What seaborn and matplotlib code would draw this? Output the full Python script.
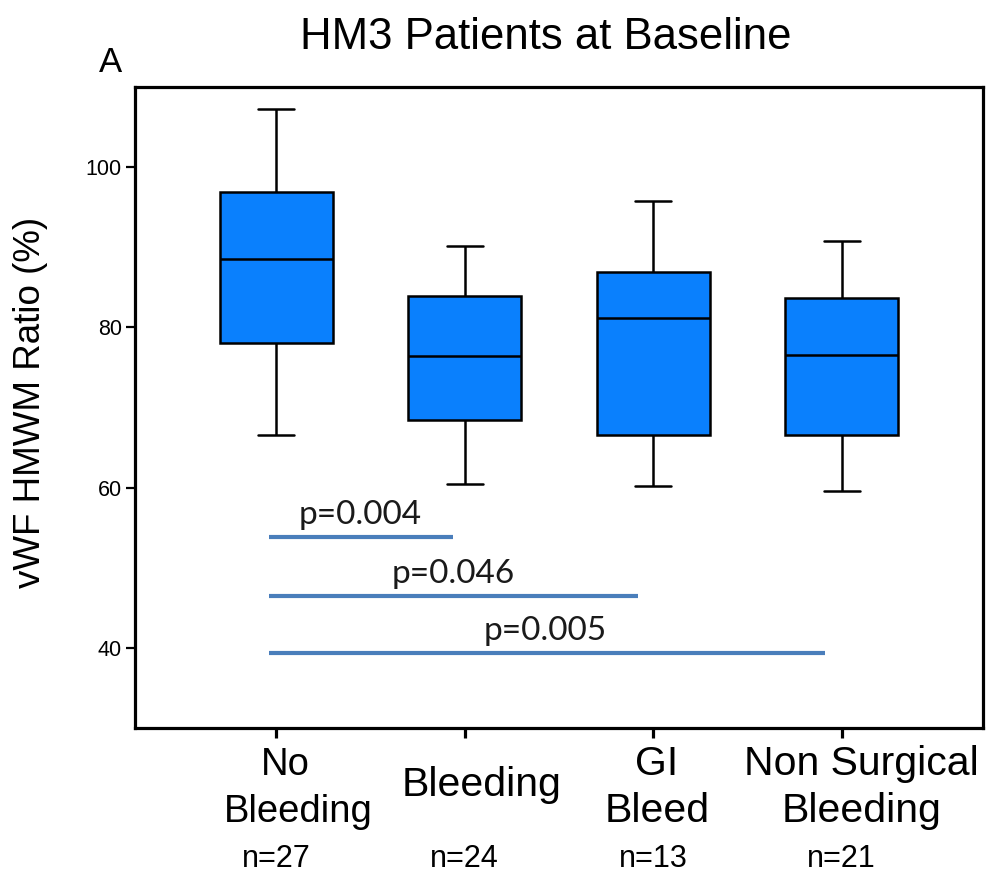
import numpy as np
import pandas as pd
import matplotlib
matplotlib.use("Agg")
import matplotlib.pyplot as plt
import matplotlib.transforms as mtransforms
import seaborn as sns

# ---------------- data ----------------
categories = ["No\nBleeding", "Bleeding", "GI\nBleed", "Non Surgical\nBleeding"]
n_labels = ["n=27", "n=24", "n=13", "n=21"]
# five-number summaries: whisker low, Q1, median, Q3, whisker high
whisker_low = [66.6, 60.5, 60.2, 59.6]
q1 = [78.0, 68.5, 66.6, 66.6]
median = [88.5, 76.4, 81.2, 76.6]
q3 = [96.9, 83.9, 86.9, 83.7]
whisker_high = [107.2, 90.1, 95.8, 90.8]

p_texts = ["p=0.004", "p=0.046", "p=0.005"]
p_line_y = [53.9, 46.5, 39.4]
p_line_x0 = [-0.04, -0.04, -0.04]
p_line_x1 = [0.94, 1.92, 2.91]
p_text_x = [0.445, 0.937, 1.425]

yticks = [40, 60, 80, 100]

title = "HM3 Patients at Baseline"
ylabel = "vWF HMWM Ratio (%)"
panel = "A"

rows = []
for c, a, b, m, d, e in zip(categories, whisker_low, q1, median, q3, whisker_high):
    for v in (a, b, m, d, e):
        rows.append({"group": c, "value": v})
df = pd.DataFrame(rows)

# ---------------- layout (pixels) ----------------
label_sizes = [27.5, 29.5, 29.5, 29.5]
label_line_dx = [[9, 22], [17], [3, 4], [20, 20]]

# ---------------- style ----------------
sns.set_theme(style="ticks")
plt.rcParams["font.family"] = ["Liberation Sans", "DejaVu Sans"]

W, H = 986, 873
fig = plt.figure(figsize=(W / 100, H / 100), dpi=100)
ax = fig.add_axes([135 / W, 1 - 728 / H, (983 - 135) / W, (728 - 87) / H])

box_color = "#0a80fd"
sns.boxplot(data=df, x="group", y="value", order=categories, color=box_color,
            saturation=1, width=0.6, whis=np.inf, showfliers=False,
            linecolor="black", linewidth=1.8, capwidths=0.19, ax=ax)

ax.set_xlim(-0.75, 3.75)
ax.set_ylim(30, 110)
ax.set_yticks(yticks)
ax.set_xlabel("")
ax.set_ylabel("")
ax.set_xticks(range(len(categories)))
ax.set_xticklabels([])

for s in ax.spines.values():
    s.set_visible(True)
    s.set_linewidth(2.3)
    s.set_color("black")

ax.tick_params(axis="y", direction="out", length=6.5, width=1.6, labelsize=15.5,
               colors="black", pad=3)
ax.tick_params(axis="x", direction="out", length=7, width=2.3, colors="black")

# significance lines
line_color = "#4a7ebb"
for t, y, x0, x1, tx in zip(p_texts, p_line_y, p_line_x0, p_line_x1, p_text_x):
    ax.plot([x0, x1], [y, y], color=line_color, lw=3, solid_capstyle="butt")
    ax.text(tx, y + 1.6, t, ha="center", va="baseline", fontsize=24,
            family=["Lato", "DejaVu Sans"], color="#1a1a1a")

# category labels
trans = mtransforms.blended_transform_factory(ax.transData, fig.transFigure)
for i, (c, n) in enumerate(zip(categories, n_labels)):
    parts = c.split("\n")
    fs = label_sizes[i]
    if len(parts) == 2:
        baselines = [775, 822]
    else:
        baselines = [796]
    for part, yb, dx in zip(parts, baselines, label_line_dx[i]):
        off = mtransforms.offset_copy(trans, fig=fig, x=dx, y=0, units="dots")
        ax.text(i, 1 - yb / H, part, transform=off, ha="center",
                va="baseline", fontsize=fs, color="black")
    ax.text(i, 1 - 867 / H, n, transform=trans, ha="center", va="baseline",
            fontsize=22, color="black")

fig.text(546 / W, 1 - 49 / H, title, ha="center", va="baseline", fontsize=31.5,
         color="black")
fig.text(99 / W, 1 - 72 / H, panel, ha="left", va="baseline", fontsize=25,
         color="black")
fig.text(31 / W, 1 - 402 / H, ylabel, ha="center", va="center", rotation=90,
         fontsize=26.5, color="black")

fig.savefig("out.png", dpi=100, facecolor="white")
